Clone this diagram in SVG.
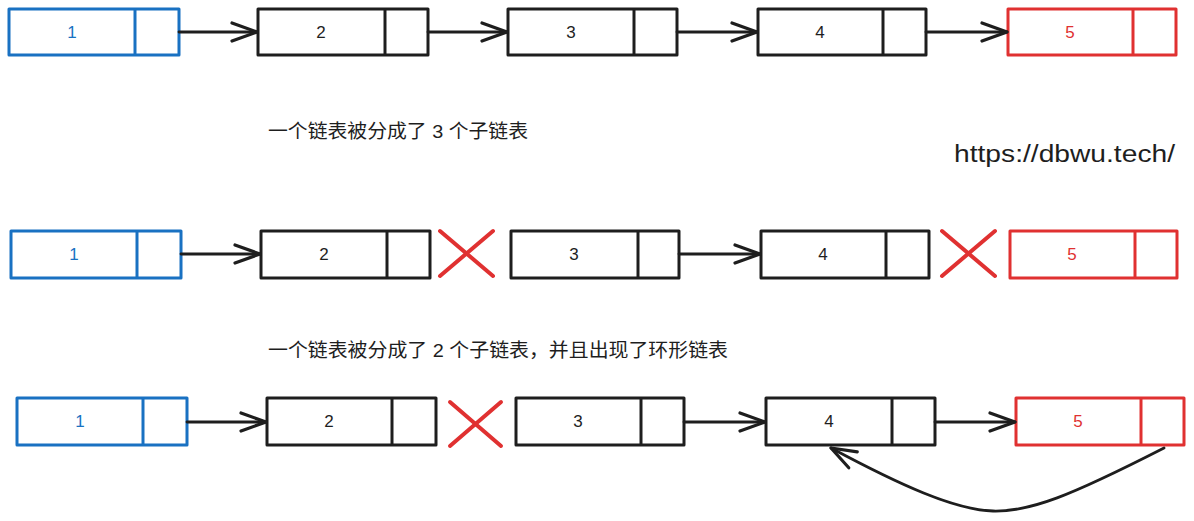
<svg xmlns="http://www.w3.org/2000/svg" width="1194" height="521" viewBox="0 0 1194 521">
<style>
.b{fill:none;stroke:#1e1e1e;stroke-width:3;stroke-linejoin:round}
.blue{stroke:#1971c2}
.red{stroke:#e03131}
.n{font-family:"Liberation Sans","Noto Sans",sans-serif;font-size:17px;text-anchor:middle;fill:#1e1e1e}
.nb{fill:#1971c2}
.nr{fill:#e03131}
.c{fill:none;stroke:#1e1e1e;stroke-width:2.8;stroke-linecap:round;stroke-linejoin:round}
.x{fill:none;stroke:#e03131;stroke-width:4;stroke-linecap:round}
.t{font-family:"Liberation Sans","Noto Sans CJK SC",sans-serif;font-size:19px;fill:#1e1e1e}
</style>
<defs>
<marker id="ah" viewBox="0 0 30 24" refX="28" refY="12" markerWidth="30" markerHeight="24" markerUnits="userSpaceOnUse" orient="auto">
<path d="M3,3 L28,12 L3,21" fill="none" stroke="#1e1e1e" stroke-width="3.2" stroke-linecap="round" stroke-linejoin="round"/>
</marker>
</defs>

<!-- Row 1 -->
<g id="r1n1"><rect class="b blue" x="9" y="9" width="170" height="46"/><line class="b blue" x1="135" y1="9" x2="135" y2="55"/><text class="n nb" x="72" y="38">1</text></g>
<g id="r1n2"><rect class="b" x="258" y="9" width="170" height="46"/><line class="b" x1="385" y1="9" x2="385" y2="55"/><text class="n" x="321" y="38">2</text></g>
<g id="r1n3"><rect class="b" x="508" y="9" width="169" height="46"/><line class="b" x1="634" y1="9" x2="634" y2="55"/><text class="n" x="571" y="38">3</text></g>
<g id="r1n4"><rect class="b" x="758" y="9" width="168" height="46"/><line class="b" x1="883" y1="9" x2="883" y2="55"/><text class="n" x="820" y="38">4</text></g>
<g id="r1n5"><rect class="b red" x="1008" y="9" width="168" height="46"/><line class="b red" x1="1133" y1="9" x2="1133" y2="55"/><text class="n nr" x="1070" y="38">5</text></g>

<!-- Row 2 -->
<g id="r2n1"><rect class="b blue" x="11" y="231" width="170" height="47"/><line class="b blue" x1="137" y1="231" x2="137" y2="278"/><text class="n nb" x="74" y="260">1</text></g>
<g id="r2n2"><rect class="b" x="261" y="231" width="169" height="47"/><line class="b" x1="387" y1="231" x2="387" y2="278"/><text class="n" x="324" y="260">2</text></g>
<g id="r2n3"><rect class="b" x="511" y="231" width="168" height="47"/><line class="b" x1="638" y1="231" x2="638" y2="278"/><text class="n" x="574" y="260">3</text></g>
<g id="r2n4"><rect class="b" x="761" y="231" width="168" height="47"/><line class="b" x1="886" y1="231" x2="886" y2="278"/><text class="n" x="823" y="260">4</text></g>
<g id="r2n5"><rect class="b red" x="1010" y="231" width="167" height="47"/><line class="b red" x1="1135" y1="231" x2="1135" y2="278"/><text class="n nr" x="1072" y="260">5</text></g>
<g id="r2x1"><line class="x" x1="440" y1="231" x2="493" y2="276"/><line class="x" x1="493" y1="231" x2="440" y2="276"/></g>
<g id="r2x2"><line class="x" x1="942" y1="231" x2="995" y2="276"/><line class="x" x1="995" y1="231" x2="942" y2="276"/></g>

<!-- Row 3 -->
<g id="r3n1"><rect class="b blue" x="17" y="398" width="170" height="47"/><line class="b blue" x1="143" y1="398" x2="143" y2="445"/><text class="n nb" x="80" y="427">1</text></g>
<g id="r3n2"><rect class="b" x="267" y="398" width="169" height="47"/><line class="b" x1="392" y1="398" x2="392" y2="445"/><text class="n" x="329" y="427">2</text></g>
<g id="r3n3"><rect class="b" x="516" y="398" width="168" height="47"/><line class="b" x1="641" y1="398" x2="641" y2="445"/><text class="n" x="578" y="427">3</text></g>
<g id="r3n4"><rect class="b" x="766" y="398" width="169" height="47"/><line class="b" x1="892" y1="398" x2="892" y2="445"/><text class="n" x="829" y="427">4</text></g>
<g id="r3n5"><rect class="b red" x="1016" y="398" width="168" height="47"/><line class="b red" x1="1141" y1="398" x2="1141" y2="445"/><text class="n nr" x="1078" y="427">5</text></g>
<g id="r3x1"><line class="x" x1="450" y1="402" x2="501" y2="446"/><line class="x" x1="501" y1="402" x2="450" y2="446"/></g>

<!-- Connectors -->
<g id="connectors">
<line class="c" x1="179" y1="32" x2="257" y2="32" marker-end="url(#ah)"/>
<line class="c" x1="428" y1="32" x2="507" y2="32" marker-end="url(#ah)"/>
<line class="c" x1="677" y1="32" x2="757" y2="32" marker-end="url(#ah)"/>
<line class="c" x1="926" y1="32" x2="1007" y2="32" marker-end="url(#ah)"/>
<line class="c" x1="181" y1="254" x2="260" y2="254" marker-end="url(#ah)"/>
<line class="c" x1="679" y1="254" x2="760" y2="254" marker-end="url(#ah)"/>
<line class="c" x1="187" y1="422" x2="266" y2="422" marker-end="url(#ah)"/>
<line class="c" x1="684" y1="422" x2="765" y2="422" marker-end="url(#ah)"/>
<line class="c" x1="935" y1="422" x2="1015" y2="422" marker-end="url(#ah)"/>
<path class="c" d="M1164,448 C1070,496 1030,512 993,511 C955,510 900,485 831,448" stroke-width="3.4" marker-end="url(#ah)"/>
</g>

<!-- Texts -->
<text class="t" x="268" y="138" textLength="260" lengthAdjust="spacingAndGlyphs">一个链表被分成了 3 个子链表</text>
<text class="t" x="268" y="357" textLength="460" lengthAdjust="spacingAndGlyphs">一个链表被分成了 2 个子链表，并且出现了环形链表</text>
<text x="954" y="162" font-family="Liberation Sans, Arial, sans-serif" font-size="23" fill="#1e1e1e" textLength="221" lengthAdjust="spacingAndGlyphs">https://dbwu.tech/</text>
</svg>
